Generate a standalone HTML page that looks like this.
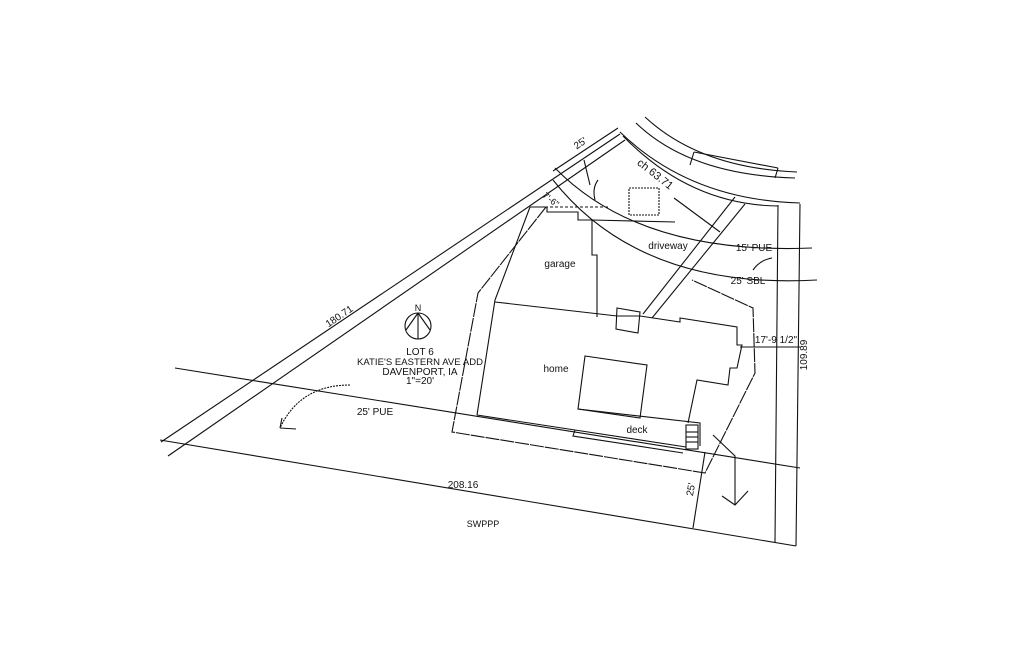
<!DOCTYPE html>
<html><head><meta charset="utf-8"><style>
html,body{margin:0;padding:0;background:#fff}
svg{display:block}
text{font-family:"Liberation Sans",sans-serif;fill:#111}
</style></head><body>
<svg width="1024" height="668" viewBox="0 0 1024 668" xmlns="http://www.w3.org/2000/svg">
<g fill="none" stroke="#111" stroke-width="1.1">
<line x1="161" y1="442" x2="620" y2="134"/>
<line x1="168" y1="456" x2="625" y2="140"/>
<line x1="160" y1="440" x2="796" y2="546"/>
<line x1="800" y1="204" x2="796" y2="546"/>
<line x1="778" y1="205" x2="775" y2="542"/>
<line x1="175" y1="368" x2="800" y2="468"/>
<path d="M636 123 Q690 175 795 178"/>
<path d="M645 117 Q700 168 797 172"/>
<path d="M620 132 Q690 200 800 203"/>
<path d="M623 136 Q690 205 778 206"/>
<path d="M555 168 Q640 255 812 248"/>
<path d="M553 180 Q640 290 817 280"/>
<line x1="553" y1="171" x2="618" y2="128"/>
<line x1="584" y1="160" x2="590" y2="185"/>
<line x1="735" y1="197" x2="643" y2="314"/>
<line x1="745" y1="204" x2="652" y2="318"/>
<line x1="674" y1="198" x2="720" y2="232"/>
<line x1="694" y1="152" x2="778" y2="168"/>
<line x1="694" y1="152" x2="690" y2="165"/>
<line x1="778" y1="168" x2="775" y2="178"/>
<rect x="629" y="188" width="30" height="27" stroke-dasharray="2,1"/>
<polyline points="530,207 547,207 547,212 578,212 578,220 592,220 675,222"/>
<polyline points="592,220 592,255 597,255 597,317"/>
<polyline points="530,207 495,300 477,415"/>
<line x1="530" y1="207" x2="608" y2="207" stroke-dasharray="3,2"/>
<polyline points="495,302 617,316 640,316 680,322 680,318 737,327 737,345 742,345 737,368 730,368 728,385 697,380 688,423"/>
<polygon points="617,308 640,312 638,333 616,329"/>
<polygon points="585,356 647,365 640,418 578,409"/>
<polyline points="477,415 575,430"/>
<polyline points="578,409 700,423 700,446"/>
<polyline points="575,430 573,436 683,453"/>
<polyline points="575,430 686,447"/>
<rect x="686" y="425" width="12" height="24"/>
<line x1="686" y1="432" x2="698" y2="432"/><line x1="686" y1="437" x2="698" y2="437"/><line x1="686" y1="442" x2="698" y2="442"/>
<polyline points="546,207 478,293 452,432 705,473 755,373 753,308 692,280" stroke-dasharray="14,1"/>
<line x1="740" y1="347" x2="800" y2="347"/>
<line x1="693" y1="528" x2="705" y2="452"/>
<path d="M350 385 Q300 385 280 428" stroke-dasharray="2,1"/>
<polyline points="280,428 296,429"/>
<line x1="280" y1="428" x2="282" y2="418"/>
<polyline points="713,435 735,456 735,505"/>
<polyline points="722,496 735,505 748,491"/>
<path d="M753 270 Q760 260 772 258"/>
<path d="M595 200 Q592 188 598 180"/>
<circle cx="418" cy="326" r="13"/>
<line x1="418" y1="313" x2="418" y2="339"/>
<line x1="406" y1="330" x2="418" y2="313"/><line x1="430" y1="330" x2="418" y2="313"/>
</g>
<g font-size="10">
<text x="418" y="311" text-anchor="middle" font-size="9">N</text>
<text x="420" y="355" text-anchor="middle">LOT 6</text>
<text x="420" y="365" text-anchor="middle" font-size="9.5" textLength="126">KATIE'S EASTERN AVE ADD</text>
<text x="420" y="375" text-anchor="middle">DAVENPORT, IA</text>
<text x="420" y="384" text-anchor="middle">1"=20'</text>
<text x="375" y="415" text-anchor="middle">25' PUE</text>
<text x="560" y="267" text-anchor="middle">garage</text>
<text x="668" y="249" text-anchor="middle">driveway</text>
<text x="754" y="251" text-anchor="middle">15' PUE</text>
<text x="748" y="284" text-anchor="middle">25' SBL</text>
<text x="556" y="372" text-anchor="middle">home</text>
<text x="637" y="433" text-anchor="middle">deck</text>
<text x="776" y="343" text-anchor="middle">17'-9 1/2"</text>
<text x="463" y="488" text-anchor="middle">208.16</text>
<text x="483" y="527" text-anchor="middle" font-size="9">SWPPP</text>
<text transform="translate(341,319) rotate(-34)" text-anchor="middle">180.71</text>
<text transform="translate(807,355) rotate(-90)" text-anchor="middle">109.89</text>
<text transform="translate(694,490) rotate(-80)" text-anchor="middle">25'</text>
<text transform="translate(582,146) rotate(-34)" text-anchor="middle">25'</text>
<text transform="translate(653,177) rotate(38)" text-anchor="middle" font-size="11">ch 63.71</text>
<text transform="translate(549,202) rotate(38)" text-anchor="middle" font-size="9">7'-6"</text>
</g>
</svg>
</body></html>
